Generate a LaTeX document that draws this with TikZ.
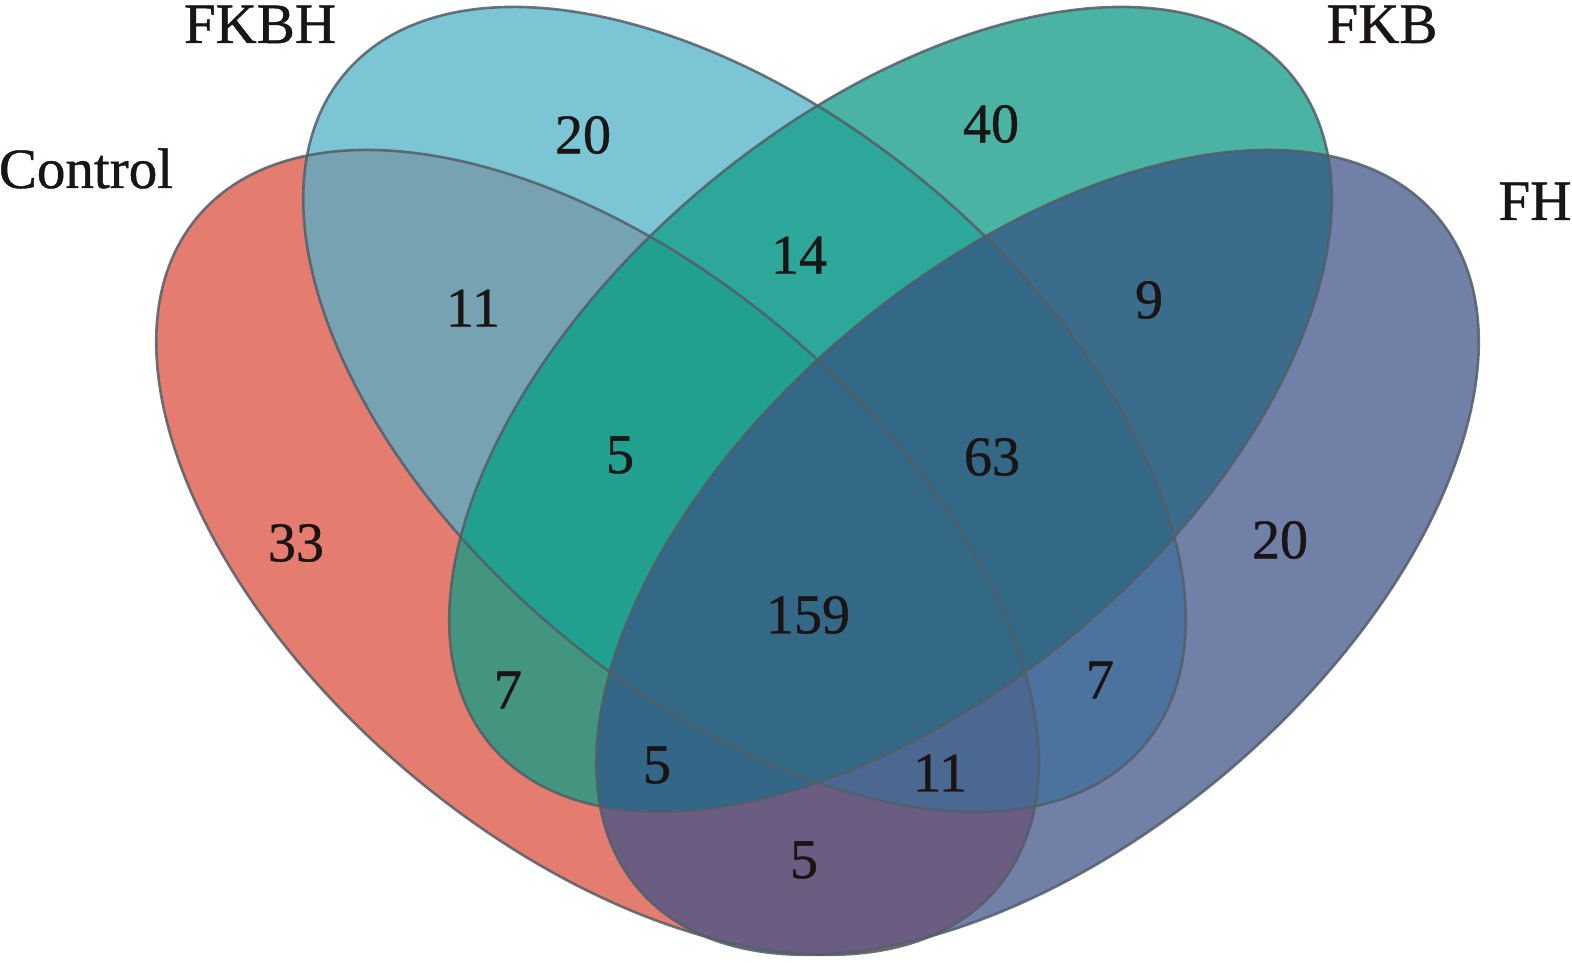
\documentclass[tikz,border=0pt]{standalone}
\usepackage{fontspec}
\setmainfont{Liberation Serif}
\newfontfamily\vennfont{Liberation Serif}[FakeBold=0.8]
\definecolor{cA}{HTML}{E47C6F}
\definecolor{cB}{HTML}{7CC5D5}
\definecolor{cC}{HTML}{4BB3A3}
\definecolor{cD}{HTML}{7180A6}
\definecolor{cAB}{HTML}{77A2B1}
\definecolor{cAC}{HTML}{44957F}
\definecolor{cAD}{HTML}{6B5D82}
\definecolor{cBC}{HTML}{2CA79A}
\definecolor{cBD}{HTML}{4B739E}
\definecolor{cCD}{HTML}{3C6C8B}
\definecolor{cABC}{HTML}{21A08F}
\definecolor{cABD}{HTML}{4A6891}
\definecolor{cACD}{HTML}{336687}
\definecolor{cBCD}{HTML}{336987}
\definecolor{cABCD}{HTML}{336886}
\definecolor{edge}{HTML}{535E68}
\definecolor{ink}{HTML}{1A1515}
\newcommand\vennA{[rotate around={-40:(597.5,410.6)}] (597.5,410.6) ellipse [x radius=522pt, y radius=290pt]}
\newcommand\vennB{[rotate around={-40:(744.5,553.6)}] (744.5,553.6) ellipse [x radius=522pt, y radius=290pt]}
\newcommand\vennC{[rotate around={40:(890.5,553.6)}] (890.5,553.6) ellipse [x radius=522pt, y radius=290pt]}
\newcommand\vennD{[rotate around={40:(1037.5,410.6)}] (1037.5,410.6) ellipse [x radius=522pt, y radius=290pt]}
\newcommand\clipA{\clip[rotate around={-40:(597.5,410.6)}] (597.5,410.6) ellipse [x radius=522pt, y radius=290pt];}
\newcommand\clipB{\clip[rotate around={-40:(744.5,553.6)}] (744.5,553.6) ellipse [x radius=522pt, y radius=290pt];}
\newcommand\clipC{\clip[rotate around={40:(890.5,553.6)}] (890.5,553.6) ellipse [x radius=522pt, y radius=290pt];}
\newcommand\clipD{\clip[rotate around={40:(1037.5,410.6)}] (1037.5,410.6) ellipse [x radius=522pt, y radius=290pt];}
\newcommand\paintall[1]{\fill[#1] (0,0) rectangle (1572,963);}
\begin{document}
\begin{tikzpicture}[x=1pt,y=1pt,
  setlbl/.style={inner sep=0pt, anchor=base, font=\vennfont\fontsize{57}{60}\selectfont, text=ink},
  num/.style={inner sep=0pt, anchor=center, font=\vennfont\fontsize{56}{60}\selectfont, text=ink},
  outline/.style={draw=edge, line width=2.6pt, draw opacity=0.85}]
\useasboundingbox (0,0) rectangle (1572,963);
% single sets
\begin{scope}\clipA\paintall{cA}\end{scope}
\begin{scope}\clipB\paintall{cB}\end{scope}
\begin{scope}\clipC\paintall{cC}\end{scope}
\begin{scope}\clipD\paintall{cD}\end{scope}
% pairs
\begin{scope}\clipA\clipB\paintall{cAB}\end{scope}
\begin{scope}\clipA\clipC\paintall{cAC}\end{scope}
\begin{scope}\clipA\clipD\paintall{cAD}\end{scope}
\begin{scope}\clipB\clipC\paintall{cBC}\end{scope}
\begin{scope}\clipB\clipD\paintall{cBD}\end{scope}
\begin{scope}\clipC\clipD\paintall{cCD}\end{scope}
% triples
\begin{scope}\clipA\clipB\clipC\paintall{cABC}\end{scope}
\begin{scope}\clipA\clipB\clipD\paintall{cABD}\end{scope}
\begin{scope}\clipA\clipC\clipD\paintall{cACD}\end{scope}
\begin{scope}\clipB\clipC\clipD\paintall{cBCD}\end{scope}
% all four
\begin{scope}\clipA\clipB\clipC\clipD\paintall{cABCD}\end{scope}
% outlines
\draw[outline] \vennA;
\draw[outline] \vennB;
\draw[outline] \vennC;
\draw[outline] \vennD;
% set labels
\node[setlbl] (lA) at (86,775) {Control};
\node[setlbl] (lB) at (260,920) {FKBH};
\node[setlbl] (lC) at (1382,920) {FKB};
\node[setlbl] (lD) at (1535,743) {FH};
% counts
\node[num] (nB) at (583,828) {20};
\node[num] (nC) at (991,839) {40};
\node[num] (nAB) at (473,655) {11};
\node[num] (nBC) at (799,708) {14};
\node[num] (nCD) at (1149,663) {9};
\node[num] (nA) at (296,420) {33};
\node[num] (nABC) at (620,508) {5};
\node[num] (nBCD) at (992,506) {63};
\node[num] (nD) at (1280,423) {20};
\node[num] (nABCD) at (808,348) {159};
\node[num] (nAC) at (508,273) {7};
\node[num] (nBD) at (1100,283) {7};
\node[num] (nACD) at (657,198) {5};
\node[num] (nABD) at (940,190) {11};
\node[num] (nAD) at (804,103) {5};
\end{tikzpicture}
\end{document}
